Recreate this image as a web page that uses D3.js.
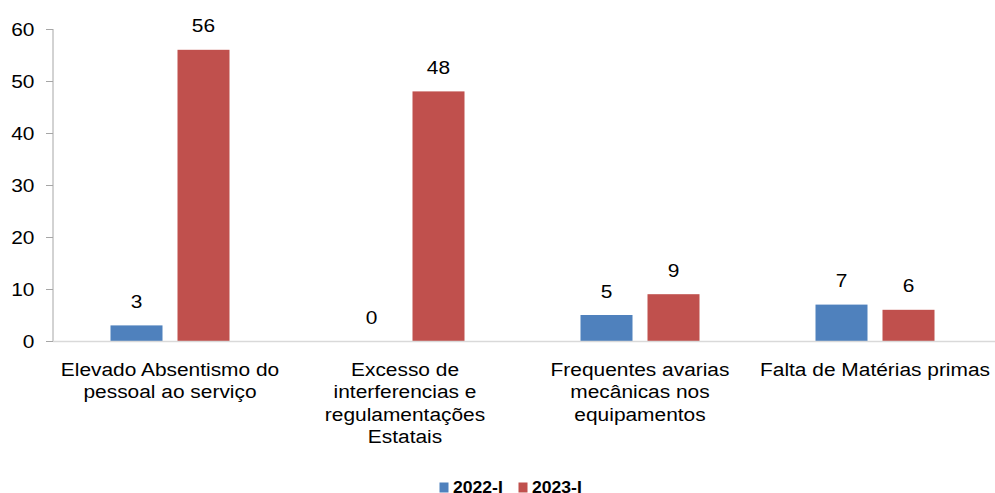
<!DOCTYPE html>
<html><head><meta charset="utf-8">
<script src="https://cdn.jsdelivr.net/npm/d3@7"></script>
<style>body{margin:0;background:#fff}svg{display:block;font-family:"Liberation Sans",Arial,sans-serif}</style>
</head><body><svg id="c" width="995" height="493"></svg>
<script>
const categories = [
  ["Elevado Absentismo do","pessoal ao serviço"],
  ["Excesso de","interferencias e","regulamentações","Estatais"],
  ["Frequentes avarias","mecânicas nos","equipamentos"],
  ["Falta de Matérias primas"]
];
const seriesNames = ["2022-I","2023-I"];
const values2022 = [3,0,5,7];
const values2023 = [56,48,9,6];
const yTicks = [0,10,20,30,40,50,60];
const colors = ["#4F81BD","#C0504D"];

const SX = 1.1, FS = "19px";
const svg = d3.select("#c");
const x0 = d3.scaleBand().domain(d3.range(categories.length)).range([52.5,992.5]);
const x1 = d3.scaleBand().domain([0,1]).range([0,119]).paddingInner(15/67);
const y = d3.scaleLinear().domain([0,60]).range([341,29]);

function label(parent, x, yy, txt, anchor, opts={}) {
  return parent.append("text")
    .attr("transform",`translate(${x},${yy}) scale(${SX},1)`)
    .attr("text-anchor",anchor).attr("font-size",opts.size||FS)
    .attr("font-weight",opts.weight||"normal").attr("fill","#000").text(txt);
}

// y axis
const ya = svg.append("g").attr("transform","translate(53,0)")
  .call(d3.axisLeft(y).tickValues(yTicks).tickSize(7).tickFormat(""));
ya.select(".domain").attr("stroke","#A6A6A6").attr("d","M0,29V341");
ya.selectAll(".tick line").attr("stroke","#A6A6A6");
yTicks.forEach(t=>label(svg, 34.5, y(t)+6.8, t, "end"));

// bars
const data = categories.map((c,i)=>[values2022[i],values2023[i]]);
const g = svg.append("g");
data.forEach((vals,i)=>{
  const cx = x0(i)+x0.bandwidth()/2 - 59.5;
  vals.forEach((v,j)=>{
    const bx = cx + x1(j);
    g.append("rect").attr("x",bx).attr("y",y(v)).attr("width",x1.bandwidth())
      .attr("height",y(0)-y(v)).attr("fill",colors[j]);
    label(g, bx+x1.bandwidth()/2, y(v)-17.5, v, "middle");
  });
});

// x baseline
svg.append("line").attr("x1",53).attr("x2",995).attr("y1",341.5).attr("y2",341.5).attr("stroke","#D9D9D9").attr("stroke-width",1.5);

// category labels
categories.forEach((lines,i)=>{
  lines.forEach((l,k)=>{
    label(svg, x0(i)+x0.bandwidth()/2, 375.7+k*22.5, l, "middle");
  });
});

// legend
const legX = [439.5,518.5];
seriesNames.forEach((n,j)=>{
  svg.append("rect").attr("x",legX[j]).attr("y",482.5).attr("width",9).attr("height",10).attr("fill",colors[j]);
  label(svg, legX[j]+13.5, 492.5, n, "start", {size:"16px", weight:"bold"});
});
</script></body></html>
